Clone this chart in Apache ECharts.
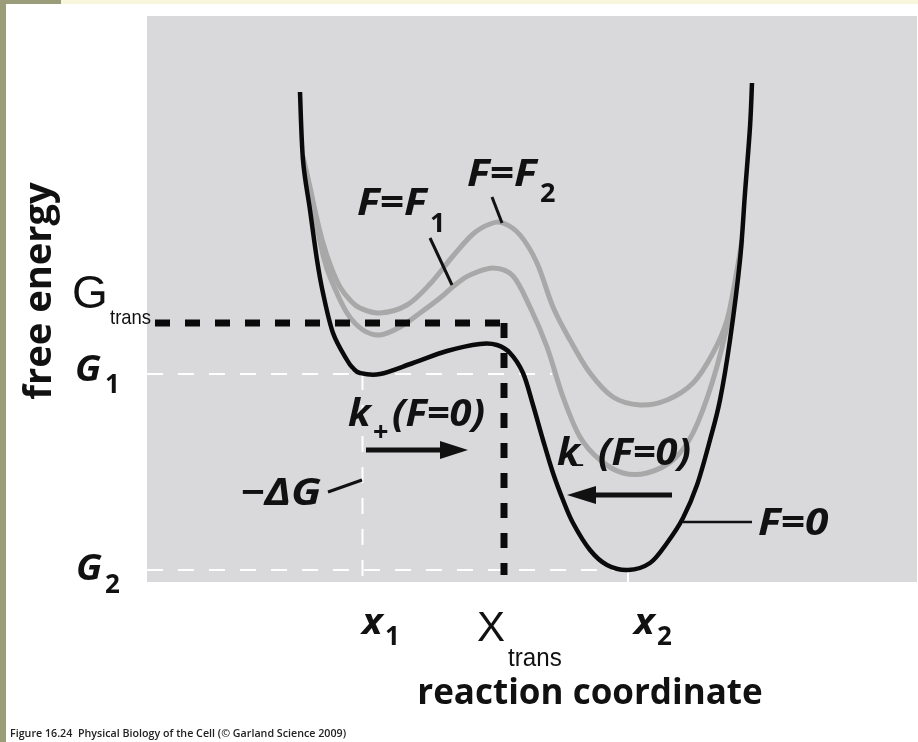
<!DOCTYPE html>
<html>
<head>
<meta charset="utf-8">
<script src="https://cdn.jsdelivr.net/npm/echarts@6/dist/echarts.min.js"></script>
<style>
  html, body { margin: 0; padding: 0; background: #ffffff; }
  #chart { width: 918px; height: 742px; }
</style>
</head>
<body>
<div id="chart"></div>
<script>
// Free-energy landscape along the reaction coordinate for three applied forces.
// Reaction coordinate and free energy are in arbitrary units.

// F = 0 (black)
const f0Coord  = [15.3, 15.6, 16.3, 17.0, 17.6, 18.6, 20.0, 20.6, 21.3, 23.3, 26.6, 30.0, 33.3, 35.0, 36.3, 37.6, 38.6, 39.6, 40.6, 41.6, 42.6, 44.3, 46.0, 48.1, 50.3, 52.0, 53.6, 55.0, 56.3, 57.3, 58.3, 59.3, 59.8, 60.3, 60.5];
const f0Energy = [49.0, 42.2, 37.2, 32.2, 28.9, 24.9, 22.2, 21.4, 20.9, 20.8, 21.9, 23.1, 23.8, 23.7, 22.9, 20.9, 17.7, 14.2, 10.9, 8.2, 5.9, 3.2, 1.7, 1.2, 1.9, 3.9, 6.4, 9.7, 14.2, 18.2, 24.2, 32.2, 38.9, 45.5, 49.9];

// F = F1 (grey, lower)
const f1Coord  = [15.6, 16.3, 17.0, 17.6, 18.3, 20.0, 21.6, 23.3, 25.3, 27.3, 29.3, 30.8, 32.3, 34.6, 36.6, 38.3, 40.0, 41.6, 43.3, 45.3, 47.6, 50.0, 52.6, 54.6, 56.6, 58.3, 59.3];
const f1Energy = [42.5, 39.2, 35.5, 32.7, 30.5, 26.9, 25.2, 24.7, 25.5, 26.9, 28.4, 29.7, 30.7, 31.4, 30.6, 27.5, 23.5, 18.5, 14.5, 12.2, 10.9, 10.9, 12.2, 14.9, 20.2, 26.9, 32.7];

// F = F2 (grey, upper)
const f2Coord  = [15.6, 16.3, 16.9, 17.6, 18.4, 19.3, 20.3, 21.3, 23.3, 26.0, 28.3, 30.6, 32.6, 34.3, 35.6, 37.3, 39.0, 40.6, 42.3, 44.3, 46.6, 49.3, 52.0, 54.6, 56.6, 58.0, 59.0, 59.5];
const f2Energy = [42.5, 39.5, 36.7, 33.9, 31.5, 29.5, 28.2, 27.4, 26.9, 27.7, 29.8, 32.6, 34.8, 35.8, 35.9, 34.7, 31.9, 27.5, 24.2, 20.9, 18.5, 17.7, 18.2, 19.9, 22.9, 26.2, 31.2, 34.2];

// Marked energy levels and coordinates
const energyLevelNames = ['G_trans', 'G1', 'G2'];
const energyLevels     = [25.9, 20.8, 1.2];
const coordNames       = ['x1', 'x_trans', 'x2'];
const coordValues      = [21.55, 35.7, 48.1];

const X_MAX = 77, Y_MAX = 56.6;
const [gTrans, g1, g2] = energyLevels;
const [x1, xTrans, x2] = coordValues;

const pairs = (xs, ys) => xs.map((x, i) => [x, ys[i]]);
const guide = (name, pts, color, width, dash) => ({
  name, type: 'line', data: pts, symbol: 'none', silent: true,
  lineStyle: { color, width, type: dash, cap: 'butt' }, z: 2
});

// Smooth landscape: a Catmull-Rom spline through the data points,
// placed with the cartesian axes (api.coord).
const curve = (name, xs, ys, color, width, z) => {
  const pts = pairs(xs, ys);
  return {
    name, type: 'custom', coordinateSystem: 'cartesian2d', silent: true, z,
    data: pts,
    encode: { x: 0, y: 1 },
    renderItem(params, api) {
      if (params.dataIndex !== 0) return null;
      const p = pts.map(d => api.coord(d));
      const n = p.length;
      let d = 'M' + p[0][0] + ' ' + p[0][1];
      for (let i = 0; i < n - 1; i++) {
        const p0 = p[Math.max(i - 1, 0)], p1 = p[i], p2 = p[i + 1], p3 = p[Math.min(i + 2, n - 1)];
        const c1x = p1[0] + (p2[0] - p0[0]) / 6, c1y = p1[1] + (p2[1] - p0[1]) / 6;
        const c2x = p2[0] - (p3[0] - p1[0]) / 6, c2y = p2[1] - (p3[1] - p1[1]) / 6;
        d += ' C' + c1x + ' ' + c1y + ' ' + c2x + ' ' + c2y + ' ' + p2[0] + ' ' + p2[1];
      }
      return {
        type: 'path', shape: { pathData: d },
        style: { stroke: color, lineWidth: width, fill: 'none', lineCap: 'butt', lineJoin: 'round' }
      };
    }
  };
};

const chart = echarts.init(document.getElementById('chart'), null, { renderer: 'canvas' });

// text helpers
const INK = '#111111';
const BOLD_FONT = '"Open Sans", "Noto Sans", sans-serif';
const THIN_FONT = '"Liberation Sans", Arial, sans-serif';
function txt(text, x, base, size, o = {}) {
  return {
    type: 'text', x, y: base - 0.33 * size, z: 50,
    rotation: o.rotation || 0, scaleX: o.scaleX || 1,
    style: {
      text, fill: o.fill || INK,
      fontFamily: o.family || BOLD_FONT,
      fontSize: size,
      fontWeight: o.weight || 'bold',
      fontStyle: o.italic ? 'italic' : 'normal',
      textAlign: o.align || 'left',
      textVerticalAlign: 'middle'
    }
  };
}
const bi = (scaleX, extra = {}) => Object.assign({ italic: true, scaleX }, extra);
const seg = (x1p, y1p, x2p, y2p, w) => ({
  type: 'line', z: 50, shape: { x1: x1p, y1: y1p, x2: x2p, y2: y2p },
  style: { stroke: INK, lineWidth: w, lineCap: 'butt' }
});
const head = (pts) => ({ type: 'polygon', z: 50, shape: { points: pts }, style: { fill: INK } });

const graphics = [
  // page frame
  { type: 'rect', z: 1, shape: { x: 0, y: 0, width: 918, height: 4 }, style: { fill: '#f8f6dc' } },
  { type: 'rect', z: 1, shape: { x: 0, y: 0, width: 61, height: 4 }, style: { fill: '#9b9c7a' } },
  { type: 'rect', z: 1, shape: { x: 0, y: 0, width: 6, height: 742 }, style: { fill: '#9b9c7a' } },

  // axis titles
  txt('free energy', 40, 291 + 0.33 * 37, 37, { rotation: Math.PI / 2, align: 'center', scaleX: 1.03 }),
  txt('reaction coordinate', 590, 706, 35, { align: 'center' }),

  // energy level labels
  txt('G', 72, 310, 46, { family: THIN_FONT, weight: 'normal' }),
  txt('trans', 110, 325, 21, { family: THIN_FONT, weight: 'normal', scaleX: 0.88 }),
  txt('G', 75, 383, 36, bi(1.05)),
  txt('1', 105, 394, 26),
  txt('G', 76, 582, 36, bi(1.05)),
  txt('2', 105, 594, 26),

  // coordinate labels
  txt('x', 362, 636, 36, bi(1.08)),
  txt('1', 385, 646, 26),
  txt('X', 477, 643, 42, { family: THIN_FONT, weight: 'normal' }),
  txt('trans', 508, 667, 26, { family: THIN_FONT, weight: 'normal', scaleX: 0.93 }),
  txt('x', 634, 636, 36, bi(1.08)),
  txt('2', 657, 646, 26),

  // curve labels
  txt('F=F', 357, 217, 37, bi(1.15)),
  txt('1', 430, 233, 27),
  seg(430, 238, 452, 285, 3),
  txt('F=F', 467, 188, 37, bi(1.15)),
  txt('2', 540, 203, 27),
  seg(492, 197, 502, 223, 3),
  txt('F=0', 758, 537, 37, bi(1.15)),
  seg(683, 522, 752, 522, 2.5),

  // rates
  txt('k', 348, 428, 37, bi(1.08)),
  txt('+', 373, 442, 27),
  txt('(F=0)', 392, 428, 37, bi(1.08)),
  seg(366, 450, 444, 450, 5),
  head([[440, 441], [468, 450], [440, 459]]),
  txt('k', 557, 467, 37, bi(1.08)),
  txt('_', 572, 463, 27),
  txt('(F=0)', 598, 467, 37, bi(1.08)),
  seg(672, 495, 592, 495, 5),
  head([[596, 486], [567, 495], [596, 504]]),

  // energy difference
  txt('\u2212\u0394G', 321, 507, 37, bi(1.18, { align: 'right' })),
  seg(328, 492, 362, 480, 3),

  // caption
  txt('Figure 16.24  Physical Biology of the Cell (\u00A9 Garland Science 2009)', 10, 738, 11.5,
      { weight: '600', fill: '#222', family: '"Open Sans", sans-serif', scaleX: 0.93 })
];

const option = {
  animation: false,
  backgroundColor: '#ffffff',
  grid: {
    left: 147, top: 16, width: 770, height: 566,
    show: true, backgroundColor: '#d9d9db', borderWidth: 0
  },
  xAxis: { type: 'value', min: 0, max: X_MAX, show: false },
  yAxis: { type: 'value', min: 0, max: Y_MAX, show: false },
  series: [
    // white dashed guides
    guide('G1 level', [[0, g1], [40.5, g1]], '#ffffff', 2, [16, 15]),
    guide('G2 level', [[0, g2], [x2, g2]], '#ffffff', 2, [16, 15]),
    guide('x1 coord', [[x1, g1], [x1, 0]], '#ffffff', 2, [16, 15]),
    guide('x2 coord', [[x2, g2], [x2, 0]], '#ffffff', 2, 'solid'),
    // landscapes
    curve('F=F2', f2Coord, f2Energy, '#a8a8a8', 5, 5),
    curve('F=F1', f1Coord, f1Energy, '#a8a8a8', 5, 5),
    curve('F=0', f0Coord, f0Energy, '#0a0a0a', 4.5, 6),
    // transition state
    { ...guide('G_trans level', [[0.8, gTrans], [xTrans + 0.15, gTrans]], '#0a0a0a', 7, [15, 15]), z: 8 },
    { ...guide('x_trans coord', [[xTrans, gTrans], [xTrans, 0.7]], '#0a0a0a', 7, [15, 15]), z: 8 }
  ],
  graphic: graphics
};
chart.setOption(option);
</script>
</body>
</html>
